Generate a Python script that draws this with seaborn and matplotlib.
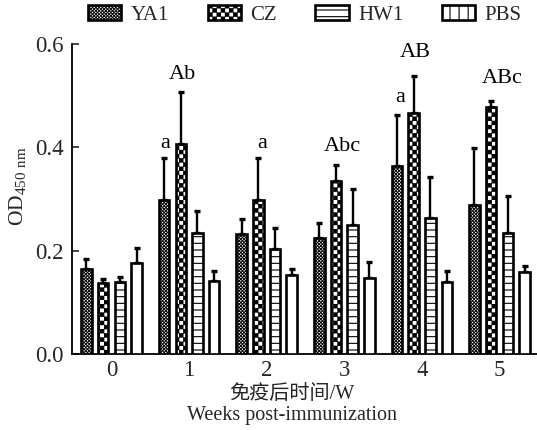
import numpy as np
import pandas as pd
import matplotlib
matplotlib.use("Agg")
import matplotlib.pyplot as plt
import matplotlib.hatch as mhatch
import matplotlib.patches as mpatches
from matplotlib.path import Path
import seaborn as sns

# ---------------- data ----------------
weeks = ["0", "1", "2", "3", "4", "5"]
groups = ["YA1", "CZ", "HW1", "PBS"]
ya1 = [0.164, 0.298, 0.232, 0.224, 0.363, 0.288]
ya1_err = [0.019, 0.081, 0.029, 0.030, 0.100, 0.110]
cz = [0.138, 0.406, 0.298, 0.335, 0.466, 0.479]
cz_err = [0.008, 0.102, 0.081, 0.031, 0.072, 0.010]
hw1 = [0.140, 0.235, 0.203, 0.250, 0.263, 0.235]
hw1_err = [0.010, 0.042, 0.041, 0.069, 0.080, 0.071]
pbs = [0.177, 0.141, 0.153, 0.148, 0.140, 0.159]
pbs_err = [0.029, 0.020, 0.011, 0.031, 0.021, 0.011]
# significance letters: (text, x, y) in data coordinates
sig_labels = ["Ab", "a", "a", "Abc", "a", "AB", "ABc"]
sig_x = [0.92, 0.69, 1.94, 2.97, 3.72, 3.91, 5.03]
sig_y = [0.540, 0.408, 0.408, 0.401, 0.497, 0.583, 0.534]
yticks = [0.0, 0.2, 0.4, 0.6]

values = {"YA1": ya1, "CZ": cz, "HW1": hw1, "PBS": pbs}
errors = {"YA1": ya1_err, "CZ": cz_err, "HW1": hw1_err, "PBS": pbs_err}
df = pd.DataFrame([(w, g, values[g][i]) for g in groups for i, w in enumerate(weeks)],
                  columns=["week", "group", "od"])

# ---------------- custom hatches ----------------
class _Checker(mhatch.HatchPatternBase):
    key = "o"
    n = 60
    inset = 0.005

    def __init__(self, hatch, density):
        on = hatch.count(self.key) > 0
        n = self.n
        self.cells = [(i, j) for i in range(n) for j in range(n) if (i + j) % 2 == 0] if on else []
        self.num_vertices = 5 * len(self.cells)

    def set_vertices_and_codes(self, vertices, codes):
        s = 1.0 / self.n
        d = self.inset
        k = 0
        for i, j in self.cells:
            x0, y0 = i * s + d, j * s + d
            x1, y1 = (i + 1) * s - d, (j + 1) * s - d
            vertices[k:k + 5] = [(x0, y0), (x1, y0), (x1, y1), (x0, y1), (x0, y0)]
            codes[k:k + 5] = [Path.MOVETO, Path.LINETO, Path.LINETO, Path.LINETO, Path.CLOSEPOLY]
            k += 5


class SmallChecker(_Checker):
    key = "o"
    n = 60
    inset = 0.004


class BigChecker(_Checker):
    key = "O"
    n = 24
    inset = 0.004


class _Lines(mhatch.HatchPatternBase):
    key = "-"
    n = 15
    horizontal = True

    def __init__(self, hatch, density):
        self.count = self.n if hatch.count(self.key) > 0 else 0
        self.num_vertices = 2 * self.count

    def set_vertices_and_codes(self, vertices, codes):
        for i in range(self.count):
            p = (i + 0.5) / self.count
            if self.horizontal:
                vertices[2 * i:2 * i + 2] = [(0.0, p), (1.0, p)]
            else:
                vertices[2 * i:2 * i + 2] = [(p, 0.0), (p, 1.0)]
            codes[2 * i:2 * i + 2] = [Path.MOVETO, Path.LINETO]


class HLines(_Lines):
    key = "-"
    n = 15
    horizontal = True


class VLines(_Lines):
    key = "|"
    n = 11
    horizontal = False


mhatch._hatch_types = [SmallChecker, BigChecker, HLines, VLines]

# ---------------- style ----------------
sns.set_style("ticks")
plt.rcParams["font.family"] = ["Liberation Serif", "Noto Sans CJK SC"]
plt.rcParams["mathtext.fontset"] = "custom"
plt.rcParams["mathtext.rm"] = "Liberation Serif"
plt.rcParams["hatch.linewidth"] = 0.8
plt.rcParams["hatch.color"] = "black"

bar_hatch = {"YA1": "o", "CZ": "O", "HW1": "-", "PBS": ""}
legend_hatch = {"YA1": "o", "CZ": "O", "HW1": "-", "PBS": "|"}

fig = plt.figure(figsize=(5.37, 4.30), dpi=100)
ax = fig.add_axes([72 / 537, 1 - 354 / 430, 1 - 72 / 537, (354 - 44) / 430])

sns.barplot(data=df, x="week", y="od", hue="group", hue_order=groups, order=weeks,
            palette=["white"] * 4, edgecolor="black", linewidth=1.9,
            width=0.86, gap=0.37, errorbar=None, legend=False, ax=ax, zorder=3)

for g, cont in zip(groups, ax.containers):
    xs, hs = [], []
    for bar in cont:
        bar.set_hatch(bar_hatch[g])
        bar.set_edgecolor("black")
        xs.append(bar.get_x() + bar.get_width() / 2)
        hs.append(bar.get_height())
    err = errors[g]
    ax.errorbar(xs, hs, yerr=[np.zeros(len(err)), err], fmt="none", ecolor="black",
                elinewidth=1.7, capsize=2.0, capthick=2.4, zorder=2)

for s, x, y in zip(sig_labels, sig_x, sig_y):
    ax.text(x, y, s, ha="center", va="center", fontsize=16, color="black")

ax.set_xlim(-0.509, 5.483)
ax.set_ylim(0, 0.6)
ax.set_yticks(yticks)
ax.set_yticklabels([f"{t:.1f}" for t in yticks])
ax.tick_params(axis="y", direction="in", length=5, width=1.2, labelsize=16.5, pad=6)
ax.tick_params(axis="x", length=0, labelsize=16.5, pad=4)
for side in ["top", "right"]:
    ax.spines[side].set_visible(False)
for side in ["left", "bottom"]:
    ax.spines[side].set_linewidth(1.3)
    ax.spines[side].set_color("black")

ax.set_xlabel("免疫后时间/W\nWeeks post-immunization", fontsize=14.5, linespacing=1.15)
ax.xaxis.set_label_coords((292 - 72) / 465, -0.100)
ax.set_ylabel(r"OD$_{\mathrm{450\ nm}}$", fontsize=15.5)
ax.yaxis.set_label_coords(-0.092, 0.54)

handles = [mpatches.Patch(facecolor="white", edgecolor="black", linewidth=1.9,
                          hatch=legend_hatch[g], label=g) for g in groups]
fig.legend(handles=handles, loc="center left", bbox_to_anchor=(88 / 537, 1 - 15 / 430),
           ncol=4, frameon=False, fontsize=15, handlelength=1.6, handleheight=0.7,
           handletextpad=0.45, columnspacing=1.85, borderpad=0, borderaxespad=0)

fig.savefig("out.png", dpi=100, facecolor="white")
